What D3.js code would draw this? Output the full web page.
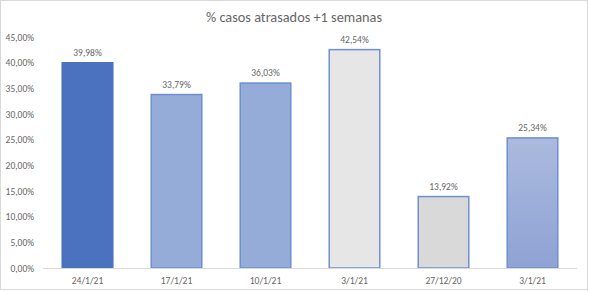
<!DOCTYPE html>
<html><head><meta charset="utf-8">
<script src="https://cdn.jsdelivr.net/npm/d3@7"></script>
<style>body{margin:0;background:#fff}svg{display:block}text{font-family:Carlito,Calibri,"Liberation Sans",sans-serif}</style>
</head><body>
<script>
const categories = ["24/1/21","17/1/21","10/1/21","3/1/21","27/12/20","3/1/21 "];
const labels = ["24/1/21","17/1/21","10/1/21","3/1/21","27/12/20","3/1/21"];
const values = [39.98, 33.79, 36.03, 42.54, 13.92, 25.34];
const valueLabels = ["39,98%","33,79%","36,03%","42,54%","13,92%","25,34%"];
const yTicks = [0,5,10,15,20,25,30,35,40,45];
const fills = ["#4a72be","#95acd9","#95acd9","#e6e6e6","#d9d9d9","url(#g6)"];
const strokes = ["#4a72be","#6e8fd2","#6e8fd2","#6e8fd2","#6e8fd2","#6e8fd2"];

const W=589,H=292;
const svg=d3.select("body").append("svg").attr("width",W).attr("height",H);
const defs=svg.append("defs");
const g=defs.append("linearGradient").attr("id","g6").attr("x1",0).attr("y1",0).attr("x2",0).attr("y2",1);
g.append("stop").attr("offset","0%").attr("stop-color","#abbade");
g.append("stop").attr("offset","100%").attr("stop-color","#8ea2d4");

svg.append("rect").attr("x",0.5).attr("y",0.5).attr("width",587).attr("height",289).attr("fill","#fff").attr("stroke","#d9d9d9");

const x=d3.scaleBand().domain(categories).range([43,577]).paddingInner(0.415).paddingOuter(0.2075);
const y=d3.scaleLinear().domain([0,45]).range([268,37]);

svg.append("text").attr("x",294).attr("y",22).attr("text-anchor","middle").attr("font-size",14.3).attr("fill","#666666").text("% casos atrasados +1 semanas");

const ya=svg.append("g").attr("transform","translate(37,0)").call(d3.axisLeft(y).tickValues(yTicks).tickSize(0).tickFormat(d=>d.toFixed(2).replace(".",",")+"%"));
ya.select(".domain").remove();
ya.selectAll("text").attr("font-size",9.5).attr("fill","#666666").attr("font-family",'Carlito,Calibri,"Liberation Sans",sans-serif');

svg.selectAll("rect.bar").data(values).join("rect").attr("class","bar")
 .attr("x",(d,i)=>x(categories[i])+0.75).attr("width",x.bandwidth()-1.5)
 .attr("y",d=>y(d)).attr("height",d=>y(0)-y(d))
 .attr("fill",(d,i)=>fills[i]).attr("stroke",(d,i)=>strokes[i]).attr("stroke-width",1.5);

const xa=svg.append("g").attr("transform","translate(0,268)").call(d3.axisBottom(x).tickSize(0).tickPadding(9).tickFormat((d,i)=>labels[i]));
xa.select(".domain").attr("stroke","#d9d9d9").attr("d","M43,0.5H577");
xa.selectAll("text").attr("font-size",9.5).attr("fill","#666666").attr("font-family",'Carlito,Calibri,"Liberation Sans",sans-serif');

svg.selectAll("text.vl").data(values).join("text").attr("class","vl")
 .attr("x",(d,i)=>x(categories[i])+x.bandwidth()/2).attr("y",d=>y(d)-7)
 .attr("text-anchor","middle").attr("font-size",9.5).attr("fill","#666666").text((d,i)=>valueLabels[i]);
</script>
</body></html>
